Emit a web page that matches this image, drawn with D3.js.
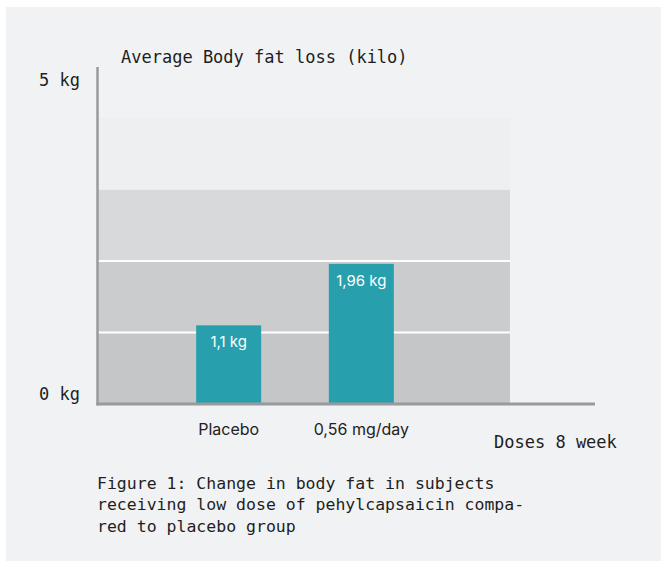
<!DOCTYPE html>
<html>
<head>
<meta charset="utf-8">
<script src="https://cdn.jsdelivr.net/npm/d3@7"></script>
<style>
  html, body { margin: 0; padding: 0; background: #fff; }
  svg { display: block; }
  .mono { font-family: "DejaVu Sans Mono", "Liberation Mono", monospace; fill: #1e1e1e; }
  .sans { font-family: Inter, "Noto Sans", sans-serif; }
</style>
</head>
<body>
<svg id="chart" width="667" height="564"></svg>
<script>
const categories = ['Placebo', '0,56 mg/day'];
const values = [1.1, 1.96];
const valueLabels = ['1,1 kg', '1,96 kg'];
const bandLevels = [0, 1, 2, 3, 4];
const bandColors = ['#c5c6c8', '#cbcccd', '#d8d9db', '#eeeff1'];
const gridValues = [1, 2];
const tickValues = [0, 5];
const tickLabels = ['0 kg', '5 kg'];
const yTitle = 'Average Body fat loss (kilo)';
const xTitle = 'Doses 8 week';
const captionLines = [
  'Figure 1: Change in body fat in subjects',
  'receiving low dose of pehylcapsaicin compa-',
  'red to placebo group'
];

const svg = d3.select('#chart');
const plot = { left: 97.5, right: 510, top: 118, bottom: 404, axisTop: 67, axisRight: 595 };

// panel background
svg.append('rect')
  .attr('x', 6).attr('y', 7).attr('width', 655).attr('height', 554)
  .attr('fill', '#f1f2f4');

const y = d3.scaleLinear().domain([0, 4]).range([plot.bottom, plot.top]);
const yTick = d3.scaleLinear().domain([0, 5]).range([plot.bottom, 90]);
const x = d3.scaleBand()
  .domain(categories)
  .range([90, 500])
  .paddingInner(0.51)
  .paddingOuter(0.8);

// shaded bands
svg.append('g')
  .selectAll('rect')
  .data(bandColors)
  .join('rect')
  .attr('x', plot.left)
  .attr('y', (d, i) => y(bandLevels[i + 1]))
  .attr('width', plot.right - plot.left)
  .attr('height', (d, i) => y(bandLevels[i]) - y(bandLevels[i + 1]))
  .attr('fill', d => d);

// white grid lines
svg.append('g')
  .selectAll('line')
  .data(gridValues)
  .join('line')
  .attr('x1', plot.left).attr('x2', plot.right)
  .attr('y1', d => y(d)).attr('y2', d => y(d))
  .attr('stroke', '#fff')
  .attr('stroke-width', 2);

// bars
svg.append('g')
  .selectAll('rect')
  .data(values)
  .join('rect')
  .attr('x', (d, i) => x(categories[i]))
  .attr('y', d => y(d))
  .attr('width', x.bandwidth())
  .attr('height', d => y(0) - y(d))
  .attr('fill', '#289fad');

svg.append('g')
  .selectAll('text')
  .data(values)
  .join('text')
  .attr('class', 'sans')
  .attr('x', (d, i) => x(categories[i]) + x.bandwidth() / 2)
  .attr('y', d => y(d) + 22)
  .attr('text-anchor', 'middle')
  .attr('font-size', 15)
  .attr('fill', '#fff')
  .text((d, i) => valueLabels[i]);

// axes
svg.append('line')
  .attr('x1', plot.left).attr('x2', plot.left)
  .attr('y1', plot.axisTop).attr('y2', plot.bottom + 1.5)
  .attr('stroke', '#999a9c').attr('stroke-width', 2.5);
svg.append('line')
  .attr('x1', plot.left - 1).attr('x2', plot.axisRight)
  .attr('y1', plot.bottom).attr('y2', plot.bottom)
  .attr('stroke', '#999a9c').attr('stroke-width', 3);

// y tick labels
svg.append('g')
  .selectAll('text')
  .data(tickValues)
  .join('text')
  .attr('class', 'mono')
  .attr('x', 80)
  .attr('y', d => yTick(d) - 4)
  .attr('text-anchor', 'end')
  .attr('font-size', 17)
  .text((d, i) => tickLabels[i]);

// category labels
svg.append('g')
  .selectAll('text')
  .data(categories)
  .join('text')
  .attr('class', 'sans')
  .attr('x', d => x(d) + x.bandwidth() / 2)
  .attr('y', 435)
  .attr('text-anchor', 'middle')
  .attr('font-size', 16)
  .attr('fill', '#222')
  .text(d => d);

svg.append('text')
  .attr('class', 'mono')
  .attr('x', 121).attr('y', 63)
  .attr('font-size', 17)
  .text(yTitle);

svg.append('text')
  .attr('class', 'mono')
  .attr('x', 494).attr('y', 448)
  .attr('font-size', 17)
  .text(xTitle);

svg.append('g')
  .selectAll('text')
  .data(captionLines)
  .join('text')
  .attr('class', 'mono')
  .attr('x', 97)
  .attr('y', (d, i) => 489 + i * 21.4)
  .attr('font-size', 16.5)
  .text(d => d);
</script>
</body>
</html>
